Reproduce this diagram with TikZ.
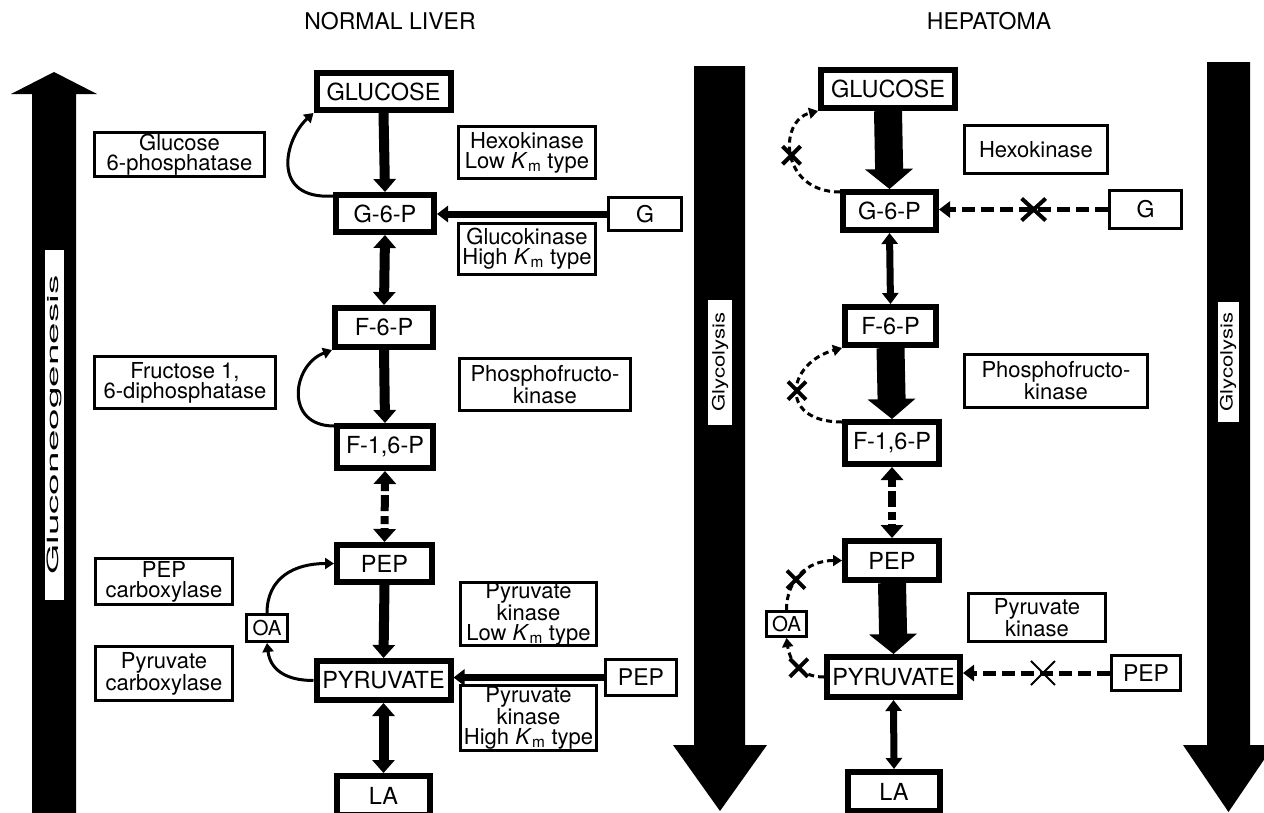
\documentclass[tikz,border=0pt]{standalone}
\usepackage{fontspec}
\setmainfont{TeX Gyre Heros}
\usepackage{graphicx}
\usetikzlibrary{arrows.meta,calc,shapes.misc}
\newcommand{\fsz}[2]{\fontsize{#1}{#2}\selectfont}
\newcommand{\Km}{\textit{K}\textsubscript{m}}
\begin{document}
\begin{tikzpicture}[x=1pt,y=-1pt,
  met/.style={draw,line width=6pt,inner sep=0pt,font=\fsz{23.5}{25}},
  enz/.style={draw,line width=3pt,inner sep=0pt,align=center,font=\fsz{22}{20}},
  sbox/.style={draw,line width=3pt,inner sep=0pt,font=\fsz{23}{25}},
  TA/.tip={Triangle[width=22pt,length=13pt]},
  TB/.tip={Triangle[width=16pt,length=11pt]},
  TC/.tip={Triangle[width=47pt,length=20pt]},
  TD/.tip={Triangle[width=11pt,length=9pt]},
  vN/.style={line width=10pt},
  hN/.style={line width=7pt},
  curveN/.style={line width=3pt},
  curveH/.style={line width=3pt,dash pattern=on 6pt off 4pt},
  thickH/.style={line width=28pt},
  thinH/.style={line width=7pt},
  dashH/.style={line width=5pt,dash pattern=on 13pt off 6pt},
  dashV/.style={line width=8pt,dash pattern=on 8pt off 4pt on 16pt off 5pt},
  xc/.style={cross out,draw,solid,line width=4pt,minimum size=14pt,inner sep=0pt},
  xcbig/.style={cross out,draw,solid,line width=4pt,minimum width=20pt,minimum height=18pt,inner sep=0pt},
  xcthin/.style={cross out,draw,solid,line width=2pt,minimum size=22pt,inner sep=0pt},
  lab/.style={fill=white,inner sep=0pt,rotate=90},
  ttl/.style={font=\fsz{23}{25}}
]
\useasboundingbox (0,0) rectangle (1264,812);
\clip (0,0) rectangle (1264,812);
\fill[white] (0,0) rectangle (1264,812);

% titles
\node[ttl] (t1) at (390,21) {NORMAL LIVER};
\node[ttl] (t2) at (989,21) {HEPATOMA};

% big arrows
\fill (32,830) -- (32,94) -- (11,94) -- (54,72) -- (97,94) -- (76,94) -- (76,830) -- cycle;
\fill (694,66) -- (745,66) -- (745,745) -- (767,745) -- (720,811) -- (673,745) -- (694,745) -- cycle;
\fill (1207,62) -- (1250,62) -- (1250,745) -- (1274,745) -- (1228.5,812) -- (1183,745) -- (1207,745) -- cycle;
\node[lab,minimum width=350pt,minimum height=19pt] (lg) at (54.5,425) {\fsz{15.5}{16}\scalebox{2.5}[1]{Gluconeogenesis}};
\node[lab,minimum width=125pt,minimum height=24pt] (ly1) at (720,362) {\fsz{17}{17}\scalebox{1.3}[1]{Glycolysis}};
\node[lab,minimum width=120pt,minimum height=21pt] (ly2) at (1228,362) {\fsz{17}{17}\scalebox{1.3}[1]{Glycolysis}};

% ---------- NORMAL LIVER ----------
\node[met,minimum width=134pt,minimum height=37pt] (glcN) at (383.5,91.5) {GLUCOSE};
\node[met,minimum width=98pt,minimum height=37pt] (g6pN) at (385,213.5) {G-6-P};
\node[met,minimum width=98pt,minimum height=39pt] (f6pN) at (384,327.5) {F-6-P};
\node[met,minimum width=96pt,minimum height=42pt] (f16pN) at (385,447) {F-1,6-P};
\node[met,minimum width=95pt,minimum height=37pt] (pepN) at (384.5,563.5) {PEP};
\node[met,minimum width=134pt,minimum height=39pt] (pyrN) at (383.5,680.5) {PYRUVATE};
\node[met,minimum width=93pt,minimum height=39pt] (laN) at (383.5,795.5) {LA};

\node[sbox,minimum width=73pt,minimum height=33pt] (gN) at (645,214) {G};
\node[sbox,minimum width=71pt,minimum height=36pt] (pep2N) at (641,677.5) {PEP};
\node[sbox,minimum width=41pt,minimum height=27pt,font=\fsz{20.5}{22}] (oaN) at (267,628) {OA};

\node[enz,minimum width=170pt,minimum height=44pt] (g6pase) at (179.5,154.5) {Glucose\\6-phosphatase};
\node[enz,minimum width=137pt,minimum height=52pt] (hexoN) at (527,152.5) {Hexokinase\\Low \Km{} type};
\node[enz,minimum width=137pt,minimum height=51pt] (glucoK) at (527,249) {Glucokinase\\High \Km{} type};
\node[enz,minimum width=181pt,minimum height=52pt] (fbpase) at (185,382.5) {Fructose 1,\\6-diphosphatase};
\node[enz,minimum width=171pt,minimum height=52pt] (pfkN) at (545,384.5) {Phosphofructo-\\kinase};
\node[enz,minimum width=137pt,minimum height=46pt] (pepck) at (164,581.5) {PEP\\carboxylase};
\node[enz,minimum width=137pt,minimum height=54pt] (pc) at (164,673.5) {Pyruvate\\carboxylase};
\node[enz,minimum width=136pt,minimum height=61pt] (pkLow) at (528.5,614) {Pyruvate\\kinase\\Low \Km{} type};
\node[enz,minimum width=136pt,minimum height=65pt] (pkHigh) at (528.5,718) {Pyruvate\\kinase\\High \Km{} type};

\draw[vN,-TA] (glcN.south) -- (g6pN.north);
\draw[vN,TA-TA] (g6pN.south) -- (f6pN.north);
\draw[vN,-TA] (f6pN.south) -- (f16pN.north);
\draw[dashV,TA-TA] (f16pN.south) -- (pepN.north);
\draw[vN,-TA] (pepN.south) -- (pyrN.north);
\draw[vN,TA-TA] (pyrN.south) -- (laN.north);
\draw[hN,-TB] (gN.west) -- (gN.west -| g6pN.east);
\draw[hN,-TB] (pep2N.west) -- (pep2N.west -| pyrN.east);

\draw[curveN,-TD] ([yshift=-4pt]g6pN.north west) .. controls +(-63,4) and +(-29,26) .. (glcN.south west);
\draw[curveN,-TD] ([yshift=-3pt]f16pN.north west) .. controls +(-50,0) and +(-40,15) .. (f6pN.south west);
\draw[curveN,-TD] (pyrN.west) .. controls +(-30,0) and +(3,25) .. (oaN.south);
\draw[curveN,-TD] (oaN.north) .. controls +(0,-35) and +(-40,0) .. (pepN.west);

% ---------- HEPATOMA ----------
\node[met,minimum width=134pt,minimum height=38pt] (glcH) at (888,89) {GLUCOSE};
\node[met,minimum width=93pt,minimum height=38pt] (g6pH) at (889.5,211) {G-6-P};
\node[met,minimum width=91pt,minimum height=38pt] (f6pH) at (890.5,326) {F-6-P};
\node[met,minimum width=94pt,minimum height=42pt] (f16pH) at (892,443) {F-1,6-P};
\node[met,minimum width=94pt,minimum height=39pt] (pepH) at (892,560.5) {PEP};
\node[met,minimum width=133pt,minimum height=40pt] (pyrH) at (893.5,677) {PYRUVATE};
\node[met,minimum width=92pt,minimum height=39pt] (laH) at (894,791.5) {LA};

\node[sbox,minimum width=72pt,minimum height=38pt] (gH) at (1145.5,209.5) {G};
\node[sbox,minimum width=69pt,minimum height=35pt] (pep2H) at (1146,673) {PEP};
\node[sbox,minimum width=40pt,minimum height=25pt,font=\fsz{20.5}{22}] (oaH) at (786.5,624) {OA};

\node[enz,minimum width=143pt,minimum height=48pt] (hexoH) at (1036,149.5) {Hexokinase};
\node[enz,minimum width=183pt,minimum height=53pt] (pfkH) at (1056,381) {Phosphofructo-\\kinase};
\node[enz,minimum width=137pt,minimum height=48pt] (pkH) at (1037,617.5) {Pyruvate\\kinase};

\draw[thickH,-TC] (glcH.south) -- (g6pH.north);
\draw[thinH,TB-TB] (g6pH.south) -- (f6pH.north);
\draw[thickH,-TC] (f6pH.south) -- (f16pH.north);
\draw[dashV,TA-TA] (f16pH.south) -- (pepH.north);
\draw[thickH,-TC] (pepH.south) -- (pyrH.north);
\draw[thinH,TB-TB] (pyrH.south) -- (laH.north);
\draw[dashH,-TB] (gH.west) -- (gH.west -| g6pH.east) node[pos=0.44,xcbig]{};
\draw[dashH,-TB] (pep2H.west) -- (pep2H.west -| pyrH.east) node[pos=0.456,xcthin]{};

\draw[curveH,-TD] ([yshift=-3pt]g6pH.north west) .. controls +(-60,0) and +(-40,10) .. (glcH.south west) node[pos=0.5,xc]{};
\draw[curveH,-TD] ([yshift=-3pt]f16pH.north west) .. controls +(-65,0) and +(-55,15) .. (f6pH.south west) node[pos=0.5,xc]{};
\draw[curveH,-TD] (pyrH.west) .. controls +(-25,0) and +(3,22) .. (oaH.south) node[pos=0.45,xc]{};
\draw[curveH,-TD] (oaH.north) .. controls +(0,-30) and +(-35,0) .. (pepH.west) node[pos=0.4,xc]{};
\end{tikzpicture}
\end{document}
